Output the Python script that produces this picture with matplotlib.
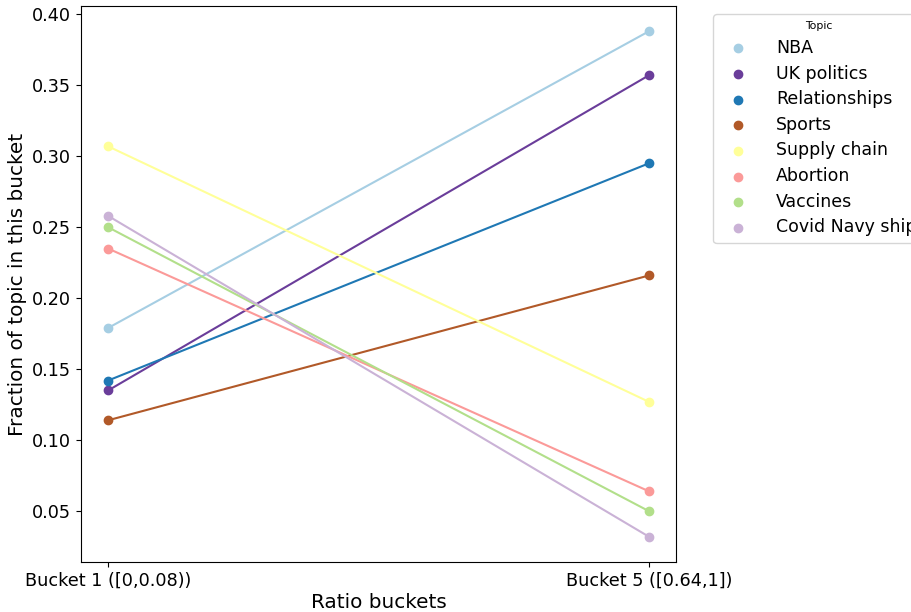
import matplotlib.pyplot as plt

# fraction of each topic in the first and last ratio bucket
buckets = ["Bucket 1 ([0,0.08))", "Bucket 5 ([0.64,1])"]
topics = ["NBA", "UK politics", "Relationships", "Sports",
          "Supply chain", "Abortion", "Vaccines", "Covid Navy ship"]
bucket1 = [0.179, 0.135, 0.142, 0.114, 0.307, 0.235, 0.250, 0.258]
bucket5 = [0.388, 0.357, 0.295, 0.216, 0.127, 0.064, 0.050, 0.032]
colors = ["#a6cee3", "#6a3d9a", "#1f78b4", "#b15928",
          "#ffff99", "#fb9a99", "#b2df8a", "#cab2d6"]

fig = plt.figure(figsize=(9.12, 6.12), dpi=100)
ax = fig.add_axes([81/912, 1 - 562/612, 595/912, 556/612])

x = [0, 1]
for name, a, b, c in zip(topics, bucket1, bucket5, colors):
    ax.plot(x, [a, b], color=c, linewidth=1.5, zorder=2)
    ax.scatter(x, [a, b], color=c, s=36, label=name, zorder=3)

ax.set_xticks(x)
ax.set_xticklabels(buckets, fontsize=12.7)
ax.tick_params(axis="y", labelsize=12.7)
ax.set_xlabel("Ratio buckets", fontsize=14.4, labelpad=2)
ax.set_ylabel("Fraction of topic in this bucket", fontsize=14.4)

leg = ax.legend(title="Topic", fontsize=12.5, title_fontsize=7.8,
                loc="upper left", bbox_to_anchor=(1.063, 0.985),
                borderaxespad=0, handletextpad=1.2, labelspacing=0.44)

fig.savefig("out.png", dpi=100)
